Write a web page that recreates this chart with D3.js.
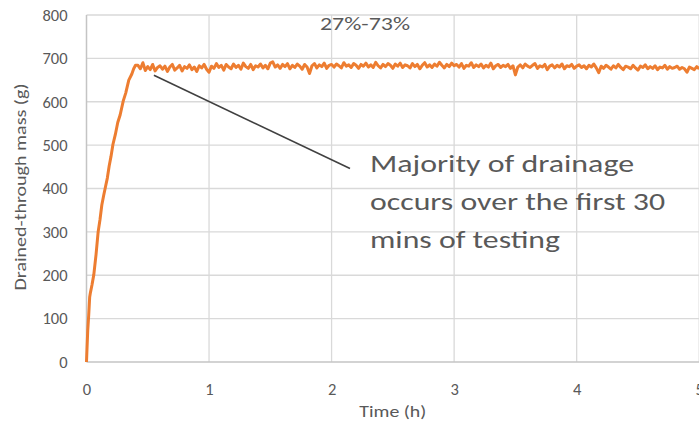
<!DOCTYPE html>
<html>
<head>
<meta charset="utf-8">
<script src="https://cdn.jsdelivr.net/npm/d3@7"></script>
<style>
  html, body { margin: 0; padding: 0; background: #fff; }
  svg { display: block; font-family: Carlito, Calibri, Lato, "Open Sans", sans-serif; }
</style>
</head>
<body>
<svg id="chart" width="699" height="422"></svg>
<script>
// Early drainage phase: time (h) and drained-through mass (g)
const riseTime = [0, 0.004, 0.01, 0.018, 0.026, 0.032, 0.045, 0.06, 0.078, 0.095,
                  0.11, 0.125, 0.14, 0.155, 0.17, 0.185, 0.2, 0.216, 0.235, 0.255,
                  0.275, 0.3, 0.32, 0.345, 0.37, 0.385, 0.4];
const riseMass = [0, 30, 72, 108, 150, 160, 178, 202, 248, 300,
                  328, 362, 384, 404, 424, 452, 474, 502, 524, 552,
                  570, 602, 620, 650, 664, 676, 684];

// Steady phase: logged every 0.02 h from 0.42 h
const plateauStart = 0.42;
const plateauStep = 0.02;
const plateauMass = [
  684, 676, 690, 672, 681, 674, 686, 671, 679, 683,
  675, 682, 670, 680, 686, 673, 678, 684, 671, 681,
  677, 685, 674, 680, 670, 683, 678, 686, 675, 668,
  682, 677, 688, 679, 684, 673, 686, 680, 676, 687,
  679, 684, 675, 689, 681, 677, 686, 674, 683, 680,
  687, 678, 684, 676, 689, 692, 680, 685, 677, 686,
  681, 688, 676, 684, 679, 687, 682, 675, 686, 680,
  665, 683, 688, 678, 685, 681, 689, 677, 684, 686,
  680, 687, 683, 678, 690, 682, 685, 679, 688, 684,
  677, 686, 682, 689, 680, 685, 679, 691, 683, 678,
  686, 681, 688, 684, 677, 687, 682, 689, 679, 685,
  683, 678, 688, 681, 686, 676, 684, 690, 680, 685,
  679, 687, 682, 691, 684, 678, 686, 681, 689, 683,
  686, 680, 688, 677, 684, 682, 690, 679, 685, 681,
  687, 678, 684, 680, 689, 676, 683, 686, 679, 684,
  681, 686, 677, 683, 662, 680, 685, 678, 687, 682,
  679, 684, 688, 677, 683, 680, 686, 674, 682, 685,
  678, 684, 680, 687, 676, 683, 681, 686, 677, 682,
  685, 679, 683, 676, 684, 680, 687, 678, 667, 682,
  677, 684, 680, 675, 683, 678, 686, 679, 674, 682,
  680, 676, 684, 678, 673, 682, 679, 685, 676, 681,
  677, 683, 674, 680, 678, 684, 675, 681, 677, 679,
  682, 675, 679, 676, 668, 680, 677, 674, 681, 676
];

const xTicks = [0, 1, 2, 3, 4, 5];
const yTicks = [0, 100, 200, 300, 400, 500, 600, 700, 800];
const chartTitle = "27%-73%";
const xTitle = "Time (h)";
const yTitle = "Drained-through mass (g)";
const noteLines = ["Majority of drainage", "occurs over the first 30", "mins of testing"];
const notePoint = { t: 0.55, g: 661 };

// Assemble the series
const series = riseTime.map((t, i) => ({ t, g: riseMass[i] }))
  .concat(plateauMass.map((g, i) => ({ t: plateauStart + i * plateauStep, g })));

const svg = d3.select("#chart");
const x = d3.scaleLinear().domain([0, 5]).range([86.5, 699.2]);
const y = d3.scaleLinear().domain([0, 800]).range([362, 15]);

const textColor = "#595959";
const gridColor = "#d9d9d9";

// Gridlines
svg.append("g").selectAll("line").data(yTicks.filter(v => v > 0)).join("line")
  .attr("x1", x(0)).attr("x2", x(5))
  .attr("y1", d => y(d)).attr("y2", d => y(d))
  .attr("stroke", gridColor).attr("stroke-width", 1.3);
svg.append("g").selectAll("line").data(xTicks.filter(v => v > 0)).join("line")
  .attr("x1", d => x(d)).attr("x2", d => x(d))
  .attr("y1", y(0)).attr("y2", y(800))
  .attr("stroke", gridColor).attr("stroke-width", 1.3);

// Axis lines
svg.append("line").attr("x1", x(0)).attr("x2", x(0)).attr("y1", y(0)).attr("y2", y(800))
  .attr("stroke", "#c4c4c4").attr("stroke-width", 1.5);
svg.append("line").attr("x1", x(0)).attr("x2", x(5)).attr("y1", y(0)).attr("y2", y(0))
  .attr("stroke", "#c4c4c4").attr("stroke-width", 1.5);

// Tick labels
const yAxis = svg.append("g").attr("transform", `translate(${x(0)},0)`)
  .call(d3.axisLeft(y).tickValues(yTicks).tickSize(0).tickPadding(19).tickFormat(d3.format("d")));
const xAxis = svg.append("g").attr("transform", `translate(0,${y(0)})`)
  .call(d3.axisBottom(x).tickValues(xTicks).tickSize(0).tickPadding(21).tickFormat(d3.format("d")));
[yAxis, xAxis].forEach(a => {
  a.select(".domain").remove();
  a.selectAll("text").attr("fill", textColor).style("font-size", "16.5px")
    .style("font-family", "Carlito, Calibri, Lato, sans-serif");
});

// Data line
svg.append("path").datum(series)
  .attr("fill", "none").attr("stroke", "#ED7D31").attr("stroke-width", 3)
  .attr("stroke-linejoin", "round")
  .attr("d", d3.line().x(d => x(d.t)).y(d => y(d.g)));

// Titles
svg.append("text").attr("x", 365).attr("y", 30).attr("text-anchor", "middle")
  .attr("fill", textColor).style("font-size", "18px")
  .attr("textLength", 90).attr("lengthAdjust", "spacingAndGlyphs").text(chartTitle);
svg.append("text").attr("x", (x(0) + x(5)) / 2).attr("y", 417).attr("text-anchor", "middle")
  .attr("fill", textColor).style("font-size", "17px")
  .attr("textLength", 67).attr("lengthAdjust", "spacingAndGlyphs").text(xTitle);
svg.append("text").attr("transform", "translate(26,187) rotate(-90)").attr("text-anchor", "middle")
  .attr("fill", textColor).style("font-size", "16.5px")
  .attr("textLength", 207).attr("lengthAdjust", "spacingAndGlyphs").text(yTitle);

// Annotation
svg.append("line")
  .attr("x1", x(notePoint.t)).attr("y1", y(notePoint.g))
  .attr("x2", 350).attr("y2", 168.5)
  .attr("stroke", "#404040").attr("stroke-width", 1.6);
const noteWidths = [264, 295, 190];
svg.append("g").selectAll("text").data(noteLines).join("text")
  .attr("x", 370).attr("y", (d, i) => 172 + i * 38)
  .attr("fill", textColor).style("font-size", "25px")
  .attr("textLength", (d, i) => noteWidths[i]).attr("lengthAdjust", "spacingAndGlyphs")
  .text(d => d);
</script>
</body>
</html>
